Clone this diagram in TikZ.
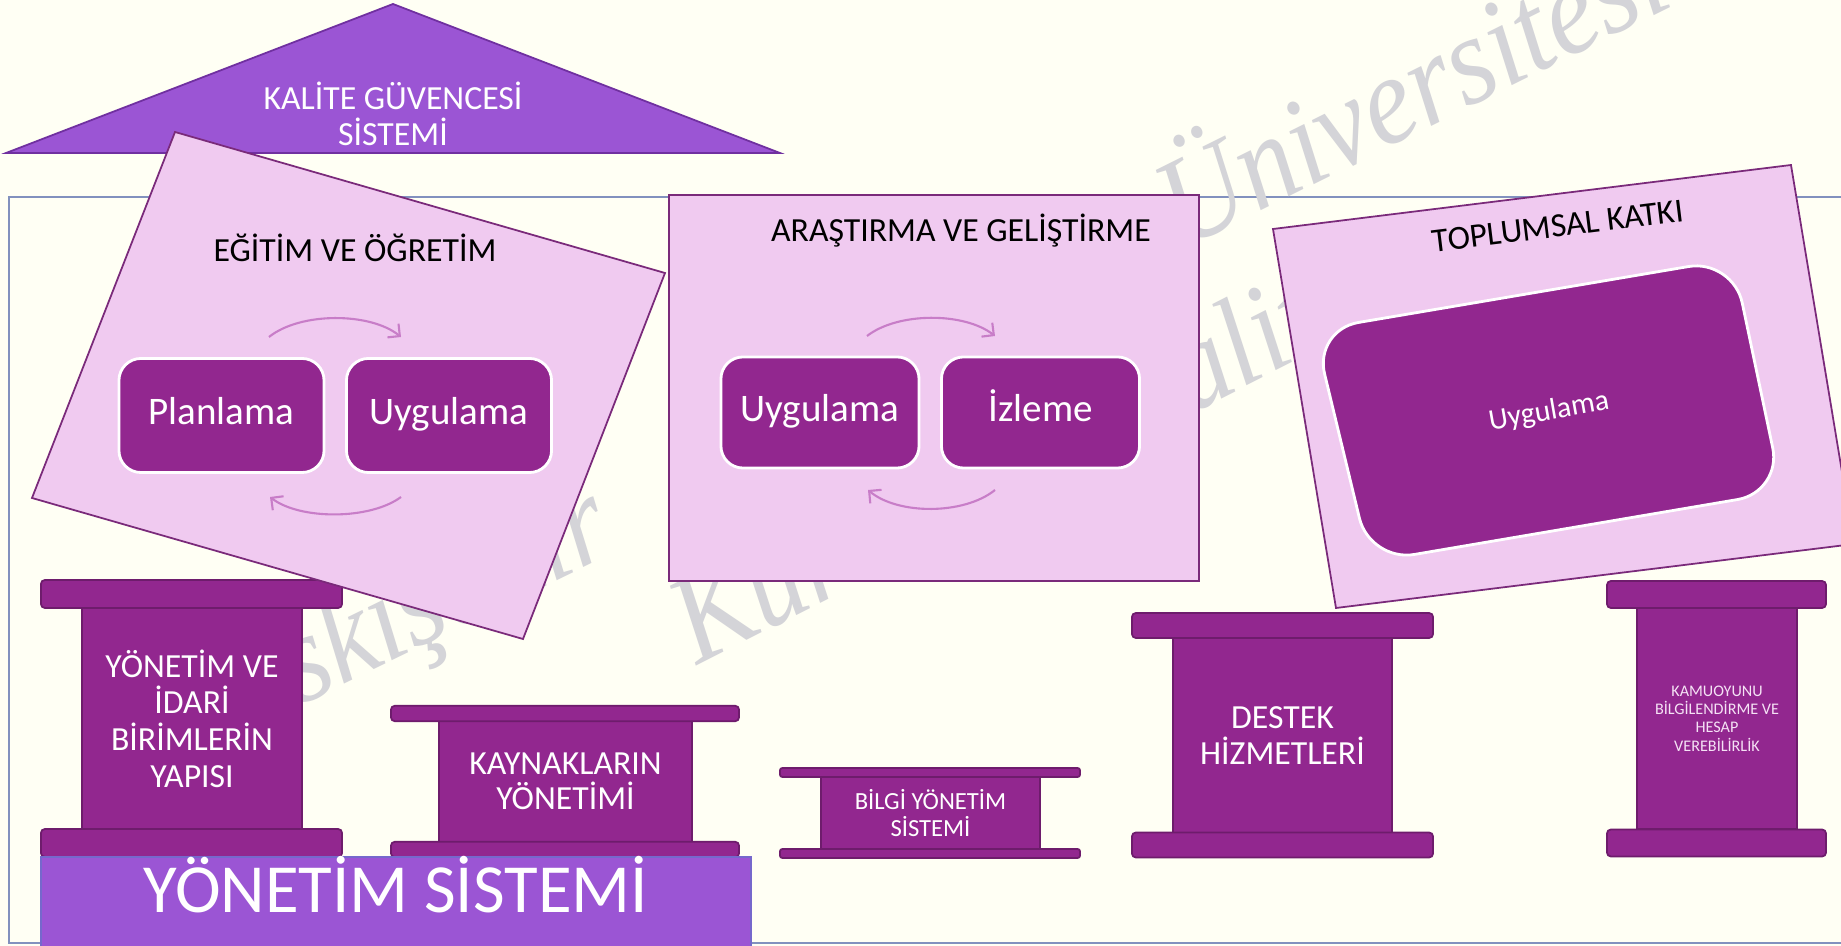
\documentclass[tikz,border=0pt]{standalone}
\usepackage{fontspec}
\setmainfont{Carlito}
\newfontfamily\wmfont{Liberation Serif}[FakeStretch=0.9]
\usetikzlibrary{arrows.meta}

\definecolor{bgcol}{RGB}{255,255,244}
\definecolor{magdark}{RGB}{146,39,143}
\definecolor{magline}{RGB}{110,28,108}
\definecolor{pinkbox}{RGB}{240,202,240}
\definecolor{pinkline}{RGB}{122,42,122}
\definecolor{purplemid}{RGB}{155,85,212}
\definecolor{purpleline}{RGB}{112,48,160}
\definecolor{barline}{RGB}{118,104,204}
\definecolor{framecol}{RGB}{130,145,190}
\definecolor{arccol}{RGB}{200,125,200}
\definecolor{wmgrey}{RGB}{212,212,216}
\definecolor{smalltext}{RGB}{245,226,245}

\begin{document}
\begin{tikzpicture}[x=0.01cm, y=-0.01cm,
  pinkshape/.style={fill=pinkbox, draw=pinkline, line width=0.5pt},
  darkbox/.style={rectangle, rounded corners=0.22cm, fill=magdark, draw=white, line width=0.8pt,
    text=white, font=\fontsize{11.1}{13}\selectfont, inner sep=0pt, text height=0.72em, text depth=0.18em},
  pshaft/.style={rectangle, fill=magdark, draw=magline, line width=0.5pt, text=white, align=center, inner sep=0pt},
  pcap/.style={rectangle, rounded corners=0.04cm, fill=magdark, draw=magline, line width=0.5pt, inner sep=0pt},
  titletext/.style={font=\fontsize{9.6}{10.2}\selectfont, text=black, inner sep=0pt},
  cyclearc/.style={draw=arccol, line width=0.6pt, -{Straight Barb[length=2.5pt,width=5pt]}},
  wm/.style={font=\wmfont\itshape\fontsize{36}{42}\selectfont, text=wmgrey, inner sep=0pt, anchor=base west, rotate=27}
]
\path[use as bounding box] (0,0) rectangle (1841,946);
\fill[bgcol] (0,0) rectangle (1841,946);
\clip (0,0) rectangle (1841,946);

% frame
\draw[framecol, line width=0.6pt] (9,197) rectangle (1900,943);

% watermark (behind everything else)
\node[wm, rotate=-1] (wm1) at (238,736) {Eskişehir};
\node[wm, font=\wmfont\itshape\fontsize{30}{36}\selectfont] (wm2) at (745,488) {Osmangazi};
\node[wm, rotate=-0.5] (wm3) at (1183,250) {Üniversitesi};
\node[wm] (wm4) at (697,666) {Kurumsal Kalite};

% roof
\draw[fill=purplemid, draw=purpleline, line width=0.5pt] (6,153) -- (393,4) -- (780,153) -- cycle;
\node[text=white, align=center, font=\fontsize{9.6}{10.25}\selectfont, inner sep=0pt] (kgs) at (393,114) {KALİTE GÜVENCESİ\\SİSTEMİ};

% pillar 1
\node[pshaft, minimum width=2.20cm, minimum height=2.21cm, font=\fontsize{9.6}{10.4}\selectfont] (s1) at (192,718.5) {YÖNETİM VE\\İDARİ\\BİRİMLERİN\\YAPISI};
\node[pcap, minimum width=3.01cm, minimum height=0.28cm] (c1t) at (191.5,594) {};
\node[pcap, minimum width=3.01cm, minimum height=0.28cm] (c1b) at (191.5,843) {};

% pillar 2
\node[pshaft, minimum width=2.53cm, minimum height=1.21cm, font=\fontsize{9.6}{10}\selectfont] (s2) at (565.5,781.5) {KAYNAKLARIN\\YÖNETİMİ};
\node[pcap, minimum width=3.48cm, minimum height=0.155cm] (c2t) at (565,713.5) {};
\node[pcap, minimum width=3.48cm, minimum height=0.155cm] (c2b) at (565,849.5) {};

% pillar 3
\node[pshaft, minimum width=2.19cm, minimum height=0.72cm, font=\fontsize{7.0}{7.7}\selectfont] (s3) at (930.5,813) {BİLGİ YÖNETİM\\SİSTEMİ};
\node[pcap, rounded corners=0.025cm, minimum width=3.00cm, minimum height=0.09cm] (c3t) at (930,772.5) {};
\node[pcap, rounded corners=0.025cm, minimum width=3.00cm, minimum height=0.09cm] (c3b) at (930,853.5) {};

% pillar 4
\node[pshaft, minimum width=2.19cm, minimum height=1.95cm, font=\fontsize{9.6}{10}\selectfont] (s4) at (1282.5,735.5) {DESTEK\\HİZMETLERİ};
\node[pcap, minimum width=3.01cm, minimum height=0.25cm] (c4t) at (1282.5,625.5) {};
\node[pcap, minimum width=3.01cm, minimum height=0.25cm] (c4b) at (1282.5,845) {};

% pillar 5
\node[pshaft, minimum width=1.60cm, minimum height=2.21cm, font=\fontsize{4.6}{5.2}\selectfont, text=smalltext] (s5) at (1717,718.5) {KAMUOYUNU\\BİLGİLENDİRME VE\\HESAP\\VEREBİLİRLİK};
\node[pcap, minimum width=2.19cm, minimum height=0.27cm] (c5t) at (1716.5,594.5) {};
\node[pcap, minimum width=2.19cm, minimum height=0.27cm] (c5b) at (1716.5,843) {};

% base bar
\node[rectangle, fill=purplemid, draw=barline, line width=0.6pt, minimum width=7.10cm, minimum height=0.93cm,
  inner sep=0pt, text=white, font=\fontsize{19.6}{22}\selectfont, text height=0.64em, text depth=0.1em] (ys) at (396,903.5) {YÖNETİM SİSTEMİ};

% EGITIM box
\draw[pinkshape] (175,132) -- (665,273) -- (523,639) -- (32,498) -- cycle;
\node[titletext, anchor=base] (egt) at (355,262) {EĞİTİM VE ÖĞRETİM};
\node[darkbox, minimum width=2.05cm, minimum height=1.14cm] (plan) at (221.5,415.5) {Planlama};
\node[darkbox, minimum width=2.05cm, minimum height=1.14cm] (uyg1) at (449,415.5) {Uygulama};
\coordinate (ea1) at (269,337);
\coordinate (ea2) at (401,337);
\coordinate (eb1) at (401,497);
\coordinate (eb2) at (270,497);
\draw[cyclearc] (ea1) .. controls (300,312) and (370,312) .. (ea2);
\draw[cyclearc] (eb1) .. controls (370,520) and (300,520) .. (eb2);

% ARGE box
\node[pinkshape, rectangle, minimum width=5.30cm, minimum height=3.86cm, inner sep=0pt] (argebox) at (934,388) {};
\node[titletext, anchor=base] (argt) at (961,242) {ARAŞTIRMA VE GELİŞTİRME};
\node[darkbox, minimum width=1.98cm, minimum height=1.11cm] (uyg2) at (820,412.5) {Uygulama};
\node[darkbox, minimum width=1.98cm, minimum height=1.11cm] (izl) at (1040.5,412.5) {İzleme};
\coordinate (aa1) at (867,336);
\coordinate (aa2) at (995,336);
\coordinate (ab1) at (995,490);
\coordinate (ab2) at (868,490);
\draw[cyclearc] (aa1) .. controls (898,312) and (964,312) .. (aa2);
\draw[cyclearc] (ab1) .. controls (964,515) and (898,515) .. (ab2);

% TOPLUMSAL box
\draw[pinkshape] (1273,229) -- (1791,165) -- (1854,544) -- (1336,608) -- cycle;
\node[titletext, rotate=7] (tkt) at (1558,226) {TOPLUMSAL KATKI};
\draw[fill=magdark, draw=white, line width=0.8pt, rounded corners=0.45cm] (1314,330) -- (1733,259) -- (1782,492) -- (1370,562) -- cycle;
\node[text=white, font=\fontsize{8.5}{10}\selectfont, rotate=10, inner sep=0pt] (uyg3) at (1549,412) {Uygulama};
\end{tikzpicture}
\end{document}
